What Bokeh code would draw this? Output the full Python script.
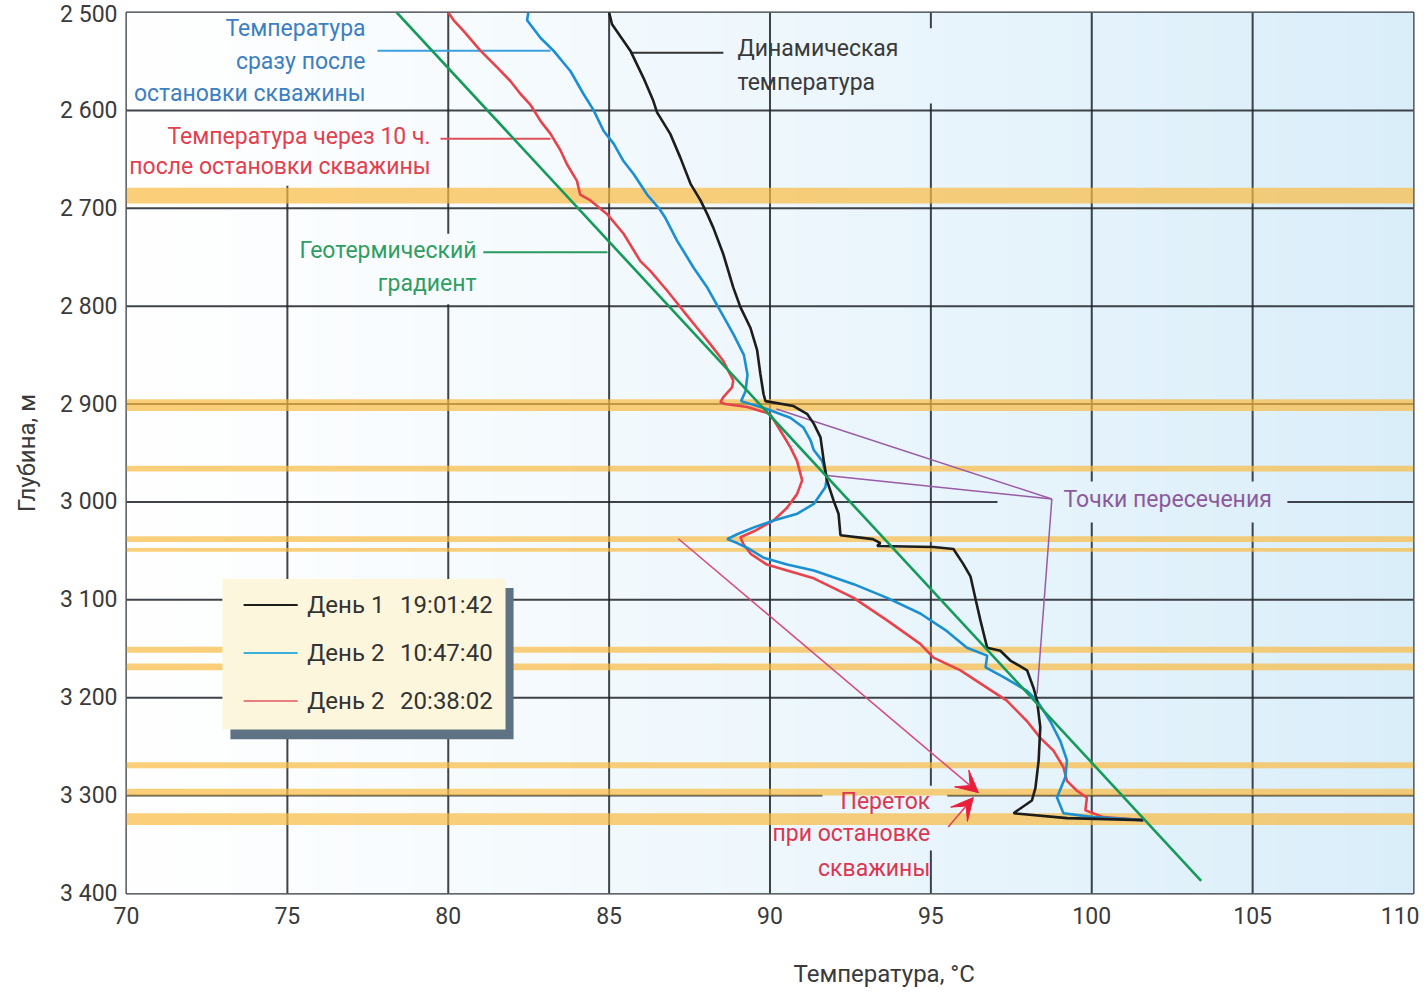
import numpy as np
from bokeh.plotting import figure
from bokeh.models import Range1d, FixedTicker, Arrow, VeeHead, Title
from bokeh.core.properties import value
from bokeh.embed import file_html
from bokeh.resources import INLINE

FONT = "Roboto"

# ---------------- data ----------------
temp_ticks = [70, 75, 80, 85, 90, 95, 100, 105, 110]
depth_ticks = [2500, 2600, 2700, 2800, 2900, 3000, 3100, 3200, 3300, 3400]
depth_labels = ["2 500", "2 600", "2 700", "2 800", "2 900", "3 000",
                "3 100", "3 200", "3 300", "3 400"]

# Day 1 19:01:42 - dynamic temperature (black)
dyn_D = [2500, 2512, 2539, 2567, 2590, 2602, 2624, 2648, 2675, 2692, 2706, 2720,
         2747, 2781, 2801, 2822, 2845, 2869, 2890, 2897, 2902, 2910, 2920, 2934,
         2958, 2978, 2999, 3012, 3034, 3038, 3042, 3045, 3046, 3048, 3063, 3076,
         3101, 3121, 3149, 3152, 3162, 3172, 3190, 3203, 3230, 3264, 3292, 3305,
         3318, 3323, 3325]
dyn_T = [85.0, 85.09, 85.66, 86.07, 86.37, 86.49, 86.9, 87.21, 87.53, 87.84, 88.05, 88.24,
         88.55, 88.86, 89.08, 89.39, 89.6, 89.7, 89.8, 89.86, 90.73, 91.15, 91.36, 91.57,
         91.67, 91.77, 91.98, 92.13, 92.19, 93.2, 93.43, 93.33, 95.08, 95.7, 96.0, 96.23,
         96.4, 96.54, 96.75, 97.16, 97.47, 97.99, 98.19, 98.3, 98.4, 98.35, 98.25, 98.14,
         97.57, 99.23, 101.6]

# Day 2 10:47:40 - right after shut-in (blue)
stop_D = [2500, 2508, 2526, 2539, 2560, 2583, 2600, 2621, 2634, 2652, 2665, 2686,
          2700, 2710, 2733, 2761, 2781, 2805, 2829, 2850, 2870, 2887, 2897, 2905,
          2914, 2924, 2937, 2947, 2958, 2975, 2985, 3002, 3012, 3019, 3026, 3033,
          3038, 3042, 3047, 3057, 3064, 3070, 3084, 3098, 3114, 3132, 3149, 3157,
          3169, 3179, 3193, 3203, 3224, 3244, 3264, 3281, 3302, 3318, 3322, 3325]
stop_T = [82.49, 82.45, 82.87, 83.27, 83.8, 84.2, 84.52, 84.83, 85.14, 85.45, 85.76, 86.18,
          86.55, 86.75, 87.11, 87.63, 88.05, 88.46, 88.87, 89.19, 89.3, 89.24, 89.1, 89.9,
          90.63, 91.04, 91.26, 91.36, 91.62, 91.77, 91.72, 91.36, 90.85, 90.11, 89.5, 88.98,
          88.67, 88.98, 89.3, 89.8, 90.53, 91.36, 92.6, 93.64, 94.67, 95.5, 96.12, 96.75,
          96.7, 97.26, 97.99, 98.3, 98.71, 99.02, 99.23, 99.18, 98.92, 99.12, 100.05, 101.6]

# Day 2 20:38:02 - 10 h after shut-in (red)
late_D = [2500, 2508, 2519, 2539, 2556, 2570, 2583, 2594, 2611, 2624, 2641, 2655,
          2672, 2686, 2692, 2706, 2726, 2754, 2764, 2784, 2805, 2822, 2839, 2856,
          2876, 2883, 2893, 2898, 2900, 2903, 2910, 2927, 2944, 2958, 2978, 2992,
          3006, 3019, 3030, 3036, 3043, 3053, 3064, 3070, 3078, 3098, 3121, 3145,
          3159, 3172, 3190, 3203, 3224, 3241, 3254, 3271, 3285, 3295, 3302, 3315,
          3322, 3325]
late_T = [80.0, 80.17, 80.48, 81.0, 81.52, 81.93, 82.24, 82.55, 82.87, 83.18, 83.49, 83.69,
          84.0, 84.1, 84.42, 84.94, 85.45, 85.97, 86.28, 86.8, 87.31, 87.73, 88.15, 88.55,
          88.86, 88.82, 88.55, 88.46, 88.6, 89.3, 90.0, 90.32, 90.63, 90.84, 91.0, 90.84,
          90.53, 90.11, 89.5, 89.08, 89.17, 89.4, 89.9, 90.53, 91.36, 92.6, 93.64, 94.67,
          95.08, 95.92, 96.75, 97.36, 97.99, 98.4, 98.81, 99.12, 99.23, 99.54, 99.85, 99.8,
          100.36, 101.6]

# geothermal gradient (green)
geo_T = [78.4, 103.4]
geo_D = [2500, 3387]

# producing intervals (orange bands), depth top / bottom
band_top = [2679, 2895, 2963, 3035, 3047, 3148, 3165, 3266, 3293, 3318]
band_bot = [2695, 2907, 2969, 3041, 3051, 3154, 3172, 3272, 3300, 3330]

legend_days = ["День 1", "День 2", "День 2"]
legend_times = ["19:01:42", "10:47:40", "20:38:02"]

# ---------------- figure ----------------
p = figure(width=1419, height=994, x_range=Range1d(70, 110), y_range=Range1d(3400, 2500),
           output_backend="svg", toolbar_location=None,
           min_border_left=126, min_border_right=6, min_border_top=12, min_border_bottom=101)
p.xgrid.visible = False
p.ygrid.visible = False
p.background_fill_color = "white"
p.border_fill_color = "white"
p.outline_line_color = "#30363c"
p.outline_line_width = 2

for ax in (p.xaxis, p.yaxis):
    ax.axis_line_color = None
    ax.major_tick_line_color = None
    ax.minor_tick_line_color = None
    ax.major_tick_out = 0
    ax.major_tick_in = 0
    ax.major_label_text_font = FONT
    ax.major_label_text_font_size = "23px"
    ax.major_label_text_color = "#3a3a3a"
p.xaxis.ticker = FixedTicker(ticks=temp_ticks)
p.yaxis.ticker = FixedTicker(ticks=depth_ticks)
p.yaxis.major_label_overrides = {t: l for t, l in zip(depth_ticks, depth_labels)}
p.xaxis.major_label_standoff = 13
p.yaxis.major_label_standoff = 9

p.yaxis.axis_label = "Глубина, м"
p.yaxis.axis_label_text_font = FONT
p.yaxis.axis_label_text_font_style = "normal"
p.yaxis.axis_label_text_font_size = "24px"
p.yaxis.axis_label_text_color = "#3a3a3a"
p.yaxis.axis_label_standoff = 16

# x-axis title, offset to the right like in the original (leading blank line = vertical spacing)
p.add_layout(Title(text="\nТемпература, °C", align="left", offset=667, standoff=6,
                   vertical_align="bottom",
                   text_font=FONT, text_font_size="24px", text_font_style="normal",
                   text_color="#3a3a3a"), "below")

# background gradient (white -> light blue)
N = 400
tt = np.linspace(0, 1, N) ** 1.15
img = np.empty((2, N), dtype=np.uint32)
view = img.view(dtype=np.uint8).reshape((2, N, 4))
view[..., 0] = (255 - 37 * tt).astype(np.uint8)
view[..., 1] = (255 - 17 * tt).astype(np.uint8)
view[..., 2] = (255 - 5 * tt).astype(np.uint8)
view[..., 3] = 255
p.image_rgba(image=[img], x=70, y=2500, dw=40, dh=900)

# gridlines (with gaps behind text labels)
GRID = "#1e2328"
v_x0, v_y0, v_y1 = [], [], []
v_gaps = {75: [(2500, 2677)], 80: [(2726, 2798)], 95: [(2516, 2593), (3290, 3356)],
          100: [(2979, 3021)], 105: [(2979, 3021)]}
for t in temp_ticks[1:-1]:
    start = 2500
    for g0, g1 in v_gaps.get(t, []):
        if g0 > start:
            v_x0.append(t); v_y0.append(start); v_y1.append(g0)
        start = g1
    v_x0.append(t); v_y0.append(start); v_y1.append(3400)
p.segment(x0=v_x0, y0=v_y0, x1=v_x0, y1=v_y1, line_color=GRID, line_width=2, line_alpha=0.85)

h_y, h_x0, h_x1 = [], [], []
h_gaps = {3000: [(97.07, 106.08)], 3300: [(91.63, 95.51)]}
for d in depth_ticks[1:-1]:
    start = 70
    for g0, g1 in h_gaps.get(d, []):
        h_y.append(d); h_x0.append(start); h_x1.append(g0)
        start = g1
    h_y.append(d); h_x0.append(start); h_x1.append(110)
p.segment(x0=h_x0, y0=h_y, x1=h_x1, y1=h_y, line_color=GRID, line_width=2, line_alpha=0.85)

# orange bands
p.quad(left=70, right=110, top=band_top, bottom=band_bot,
       fill_color="#f9ba41", fill_alpha=0.7, line_color=None)

# legend box with shadow
p.quad(left=73.23, right=82.03, top=3087.8, bottom=3242.3, fill_color="#5f7284", line_color=None)
p.quad(left=72.98, right=81.78, top=3078.6, bottom=3232.5, fill_color="#fcf7dc", line_color=None)
leg_colors = ["#1d1d1b", "#3cb0dc", "#ea7f7f"]
leg_y = [3105.2, 3154.2, 3203.3]
p.segment(x0=[73.64] * 3, y0=leg_y, x1=[75.32] * 3, y1=leg_y, line_color=leg_colors, line_width=2)
p.text(x=[75.62] * 3, y=leg_y, text=legend_days, text_color="#333333",
       text_align="left", text_baseline="middle",
       text_font=value(FONT), text_font_size="24px")
p.text(x=[81.38] * 3, y=leg_y, text=legend_times, text_color="#333333",
       text_align="right", text_baseline="middle",
       text_font=value(FONT), text_font_size="24px")

# leader lines
p.segment(x0=[77.8], y0=[2539], x1=[83.18], y1=[2539], line_color="#3aa0e0", line_width=2)
p.segment(x0=[79.76], y0=[2629], x1=[83.18], y1=[2629], line_color="#e0505a", line_width=2)
p.segment(x0=[81.09], y0=[2745], x1=[84.95], y1=[2745], line_color="#2a9a60", line_width=2)
p.segment(x0=[85.66], y0=[2541], x1=[88.55], y1=[2541], line_color="#333333", line_width=2)

# intersection pointers
p.multi_line(xs=[[98.76, 90.2], [98.76, 91.77], [98.76, 98.3]],
             ys=[[2997, 2905], [2997, 2973], [2997, 3196]],
             line_color="#9a5aa8", line_width=1.5)

# curves
p.line(late_T, late_D, line_color="#e8434b", line_width=2.6)
p.line(stop_T, stop_D, line_color="#1b8fd2", line_width=2.6)
p.line(dyn_T, dyn_D, line_color="#1d1d1b", line_width=2.6)
p.line(geo_T, geo_D, line_color="#169a5a", line_width=2.6)

# arrows (crossflow)
p.add_layout(Arrow(x_start=87.15, y_start=3037.6, x_end=96.48, y_end=3297,
                   line_color="#d6487a", line_width=1.5,
                   end=VeeHead(size=22, fill_color="#e8203c", line_color="#e8203c")))
p.add_layout(Arrow(x_start=95.54, y_start=3332, x_end=96.32, y_end=3302,
                   line_color="#e0405a", line_width=1.5,
                   end=VeeHead(size=22, fill_color="#e8203c", line_color="#e8203c")))


def add_text(xs, ys, texts, color, align):
    p.text(x=xs, y=ys, text=texts, text_color=color, text_align=align,
           text_baseline="middle", text_font=value(FONT), text_font_size="23px")


add_text([77.43] * 3, [2516.7, 2550.4, 2583.1],
         ["Температура", "сразу после", "остановки скважины"], "#3c7fc2", "right")
add_text([79.45] * 2, [2627, 2657.6],
         ["Температура через 10 ч.", "после остановки скважины"], "#e2404e", "right")
add_text([80.88] * 2, [2743.5, 2777.2], ["Геотермический", "градиент"], "#2f9e62", "right")
add_text([88.99] * 2, [2537, 2572], ["Динамическая", "температура"], "#3a3a3a", "left")
add_text([99.12], [2998], ["Точки пересечения"], "#8c5a9c", "left")
add_text([94.98] * 3, [3306, 3339, 3374], ["Переток", "при остановке", "скважины"], "#dc3650", "right")

open("out.html", "w").write(file_html(p, INLINE))
